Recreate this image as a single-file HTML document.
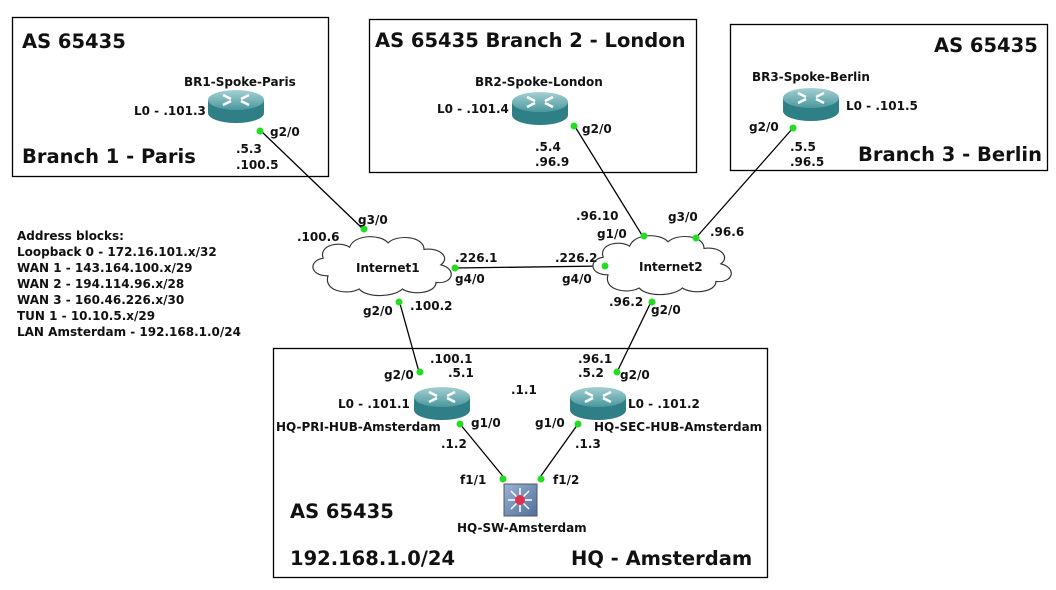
<!DOCTYPE html>
<html><head><style>
body{margin:0;background:#fff}
svg{display:block}
text{font-family:"DejaVu Sans","Liberation Sans",sans-serif;font-weight:bold;fill:#111}
.s{font-size:12px}
.t{font-size:19.5px}
</style></head><body>
<svg width="1056" height="590" viewBox="0 0 1056 590" xmlns="http://www.w3.org/2000/svg">
<defs>
<linearGradient id="rg" x1="0" y1="0" x2="0" y2="1"><stop offset="0" stop-color="#a5d0d3"/><stop offset="1" stop-color="#4a989e"/></linearGradient>
<linearGradient id="sg" x1="0" y1="0" x2="1" y2="1"><stop offset="0" stop-color="#9bb3d3"/><stop offset="1" stop-color="#4f6f9a"/></linearGradient>
<g id="router">
<path d="M-28,-6 v13 a28,10 0 0 0 56,0 v-13 z" fill="#2f7f86"/>
<ellipse cx="0" cy="-6" rx="28" ry="10" fill="url(#rg)"/>
<path d="M-13,-11 l8,4 M13,-11 l-8,4 M-13,-1 l8,-4 M13,-1 l-8,-4" stroke="#fff" stroke-width="2.5"/>
</g>
<g id="cloud">
<path d="M-50,8 c-16,0 -16,-14 -4,-16 c-4,-12 14,-16 22,-10 c4,-12 26,-12 32,-4 c8,-8 30,-6 30,6 c14,-2 22,8 14,14 c14,4 10,18 -4,16 c0,10 -20,12 -28,6 c-8,8 -30,8 -36,0 c-10,6 -30,2 -26,-12 z" fill="#fff" stroke="#333" stroke-width="1"/>
</g>
</defs>
<g fill="none" stroke="#000" stroke-width="1.3">
<rect x="12.5" y="17.5" width="316" height="159"/>
<rect x="369.5" y="19.5" width="327" height="153"/>
<rect x="730.5" y="24.5" width="317" height="146"/>
<rect x="273.5" y="348.5" width="494" height="229"/>
</g>
<g stroke="#000" stroke-width="1.3">
<line x1="260" y1="130" x2="364" y2="230"/>
<line x1="574" y1="125" x2="645" y2="240"/>
<line x1="793" y1="128" x2="694" y2="240"/>
<line x1="455" y1="268" x2="606" y2="266"/>
<line x1="399" y1="300" x2="419" y2="372"/>
<line x1="652" y1="300" x2="617" y2="372"/>
<line x1="460" y1="424" x2="506" y2="480"/>
<line x1="578" y1="424" x2="538" y2="480"/>
</g>
<use href="#cloud" transform="translate(388,267) scale(1.2,1.1)"/>
<use href="#cloud" transform="translate(668,266) scale(1.2,1.1)"/>
<use href="#router" x="236" y="106"/>
<use href="#router" x="540" y="108"/>
<use href="#router" x="811" y="104"/>
<use href="#router" x="442" y="403"/>
<use href="#router" x="598" y="403"/>
<rect x="504" y="484" width="33" height="32" fill="url(#sg)" stroke="#556"/>
<g stroke="#fff" stroke-width="1.5"><path d="M520,488 v24 M508,500 h24 M511,491 l18,18 M529,491 l-18,18"/></g>
<circle cx="520" cy="500" r="5" fill="#e03050"/>
<g fill="#22dd22">
<circle cx="260" cy="131" r="3.5"/><circle cx="364" cy="229" r="3.5"/>
<circle cx="574" cy="126" r="3.5"/><circle cx="644" cy="236" r="3.5"/>
<circle cx="793" cy="128" r="3.5"/><circle cx="696" cy="238" r="3.5"/>
<circle cx="455" cy="268" r="3.5"/><circle cx="605" cy="266" r="3.5"/>
<circle cx="399" cy="302" r="3.5"/><circle cx="652" cy="302" r="3.5"/>
<circle cx="420" cy="372" r="3.5"/><circle cx="617" cy="372" r="3.5"/>
<circle cx="460" cy="424" r="3.5"/><circle cx="578" cy="424" r="3.5"/>
<circle cx="503" cy="479" r="3.5"/><circle cx="541" cy="479" r="3.5"/>
</g>
<text class="t" x="22" y="48">AS 65435</text>
<text class="t" x="22" y="163">Branch 1 - Paris</text>
<text class="t" x="375" y="47">AS 65435  Branch 2 - London</text>
<text class="t" x="934" y="52">AS 65435</text>
<text class="t" x="858" y="161">Branch 3 - Berlin</text>
<text class="t" x="290" y="518">AS 65435</text>
<text class="t" x="290" y="565">192.168.1.0/24</text>
<text class="t" x="571" y="565">HQ - Amsterdam</text>
<g>
<text class="s" x="184" y="86">BR1-Spoke-Paris</text>
<text class="s" x="134" y="115">L0 - .101.3</text>
<text class="s" x="270" y="136">g2/0</text>
<text class="s" x="236" y="153">.5.3</text>
<text class="s" x="236" y="169">.100.5</text>
<text class="s" x="475" y="86">BR2-Spoke-London</text>
<text class="s" x="437" y="113">L0 - .101.4</text>
<text class="s" x="582" y="133">g2/0</text>
<text class="s" x="535" y="151">.5.4</text>
<text class="s" x="535" y="166">.96.9</text>
<text class="s" x="752" y="81">BR3-Spoke-Berlin</text>
<text class="s" x="846" y="110">L0 - .101.5</text>
<text class="s" x="749" y="131">g2/0</text>
<text class="s" x="790" y="151">.5.5</text>
<text class="s" x="790" y="166">.96.5</text>
<text class="s" x="358" y="224">g3/0</text>
<text class="s" x="297" y="241">.100.6</text>
<text class="s" x="576" y="220">.96.10</text>
<text class="s" x="597" y="238">g1/0</text>
<text class="s" x="668" y="221">g3/0</text>
<text class="s" x="710" y="236">.96.6</text>
<text class="s" x="356" y="272">Internet1</text>
<text class="s" x="639" y="271">Internet2</text>
<text class="s" x="455" y="262">.226.1</text>
<text class="s" x="455" y="283">g4/0</text>
<text class="s" x="555" y="262">.226.2</text>
<text class="s" x="562" y="283">g4/0</text>
<text class="s" x="363" y="315">g2/0</text>
<text class="s" x="410" y="310">.100.2</text>
<text class="s" x="609" y="306">.96.2</text>
<text class="s" x="651" y="314">g2/0</text>
<text class="s" x="430" y="363">.100.1</text>
<text class="s" x="384" y="379">g2/0</text>
<text class="s" x="448" y="377">.5.1</text>
<text class="s" x="511" y="394">.1.1</text>
<text class="s" x="578" y="363">.96.1</text>
<text class="s" x="578" y="377">.5.2</text>
<text class="s" x="620" y="379">g2/0</text>
<text class="s" x="338" y="408">L0 - .101.1</text>
<text class="s" x="628" y="408">L0 - .101.2</text>
<text class="s" x="276" y="431">HQ-PRI-HUB-Amsterdam</text>
<text class="s" x="594" y="431">HQ-SEC-HUB-Amsterdam</text>
<text class="s" x="471" y="427">g1/0</text>
<text class="s" x="535" y="427">g1/0</text>
<text class="s" x="441" y="448">.1.2</text>
<text class="s" x="575" y="448">.1.3</text>
<text class="s" x="460" y="484">f1/1</text>
<text class="s" x="553" y="484">f1/2</text>
<text class="s" x="457" y="532">HQ-SW-Amsterdam</text>
<text class="s" x="17" y="240">Address blocks:</text>
<text class="s" x="17" y="256">Loopback 0 - 172.16.101.x/32</text>
<text class="s" x="17" y="272">WAN 1 - 143.164.100.x/29</text>
<text class="s" x="17" y="288">WAN 2 - 194.114.96.x/28</text>
<text class="s" x="17" y="304">WAN 3 - 160.46.226.x/30</text>
<text class="s" x="17" y="320">TUN 1 - 10.10.5.x/29</text>
<text class="s" x="17" y="336">LAN Amsterdam - 192.168.1.0/24</text>
</g>
</svg>
</body></html>
